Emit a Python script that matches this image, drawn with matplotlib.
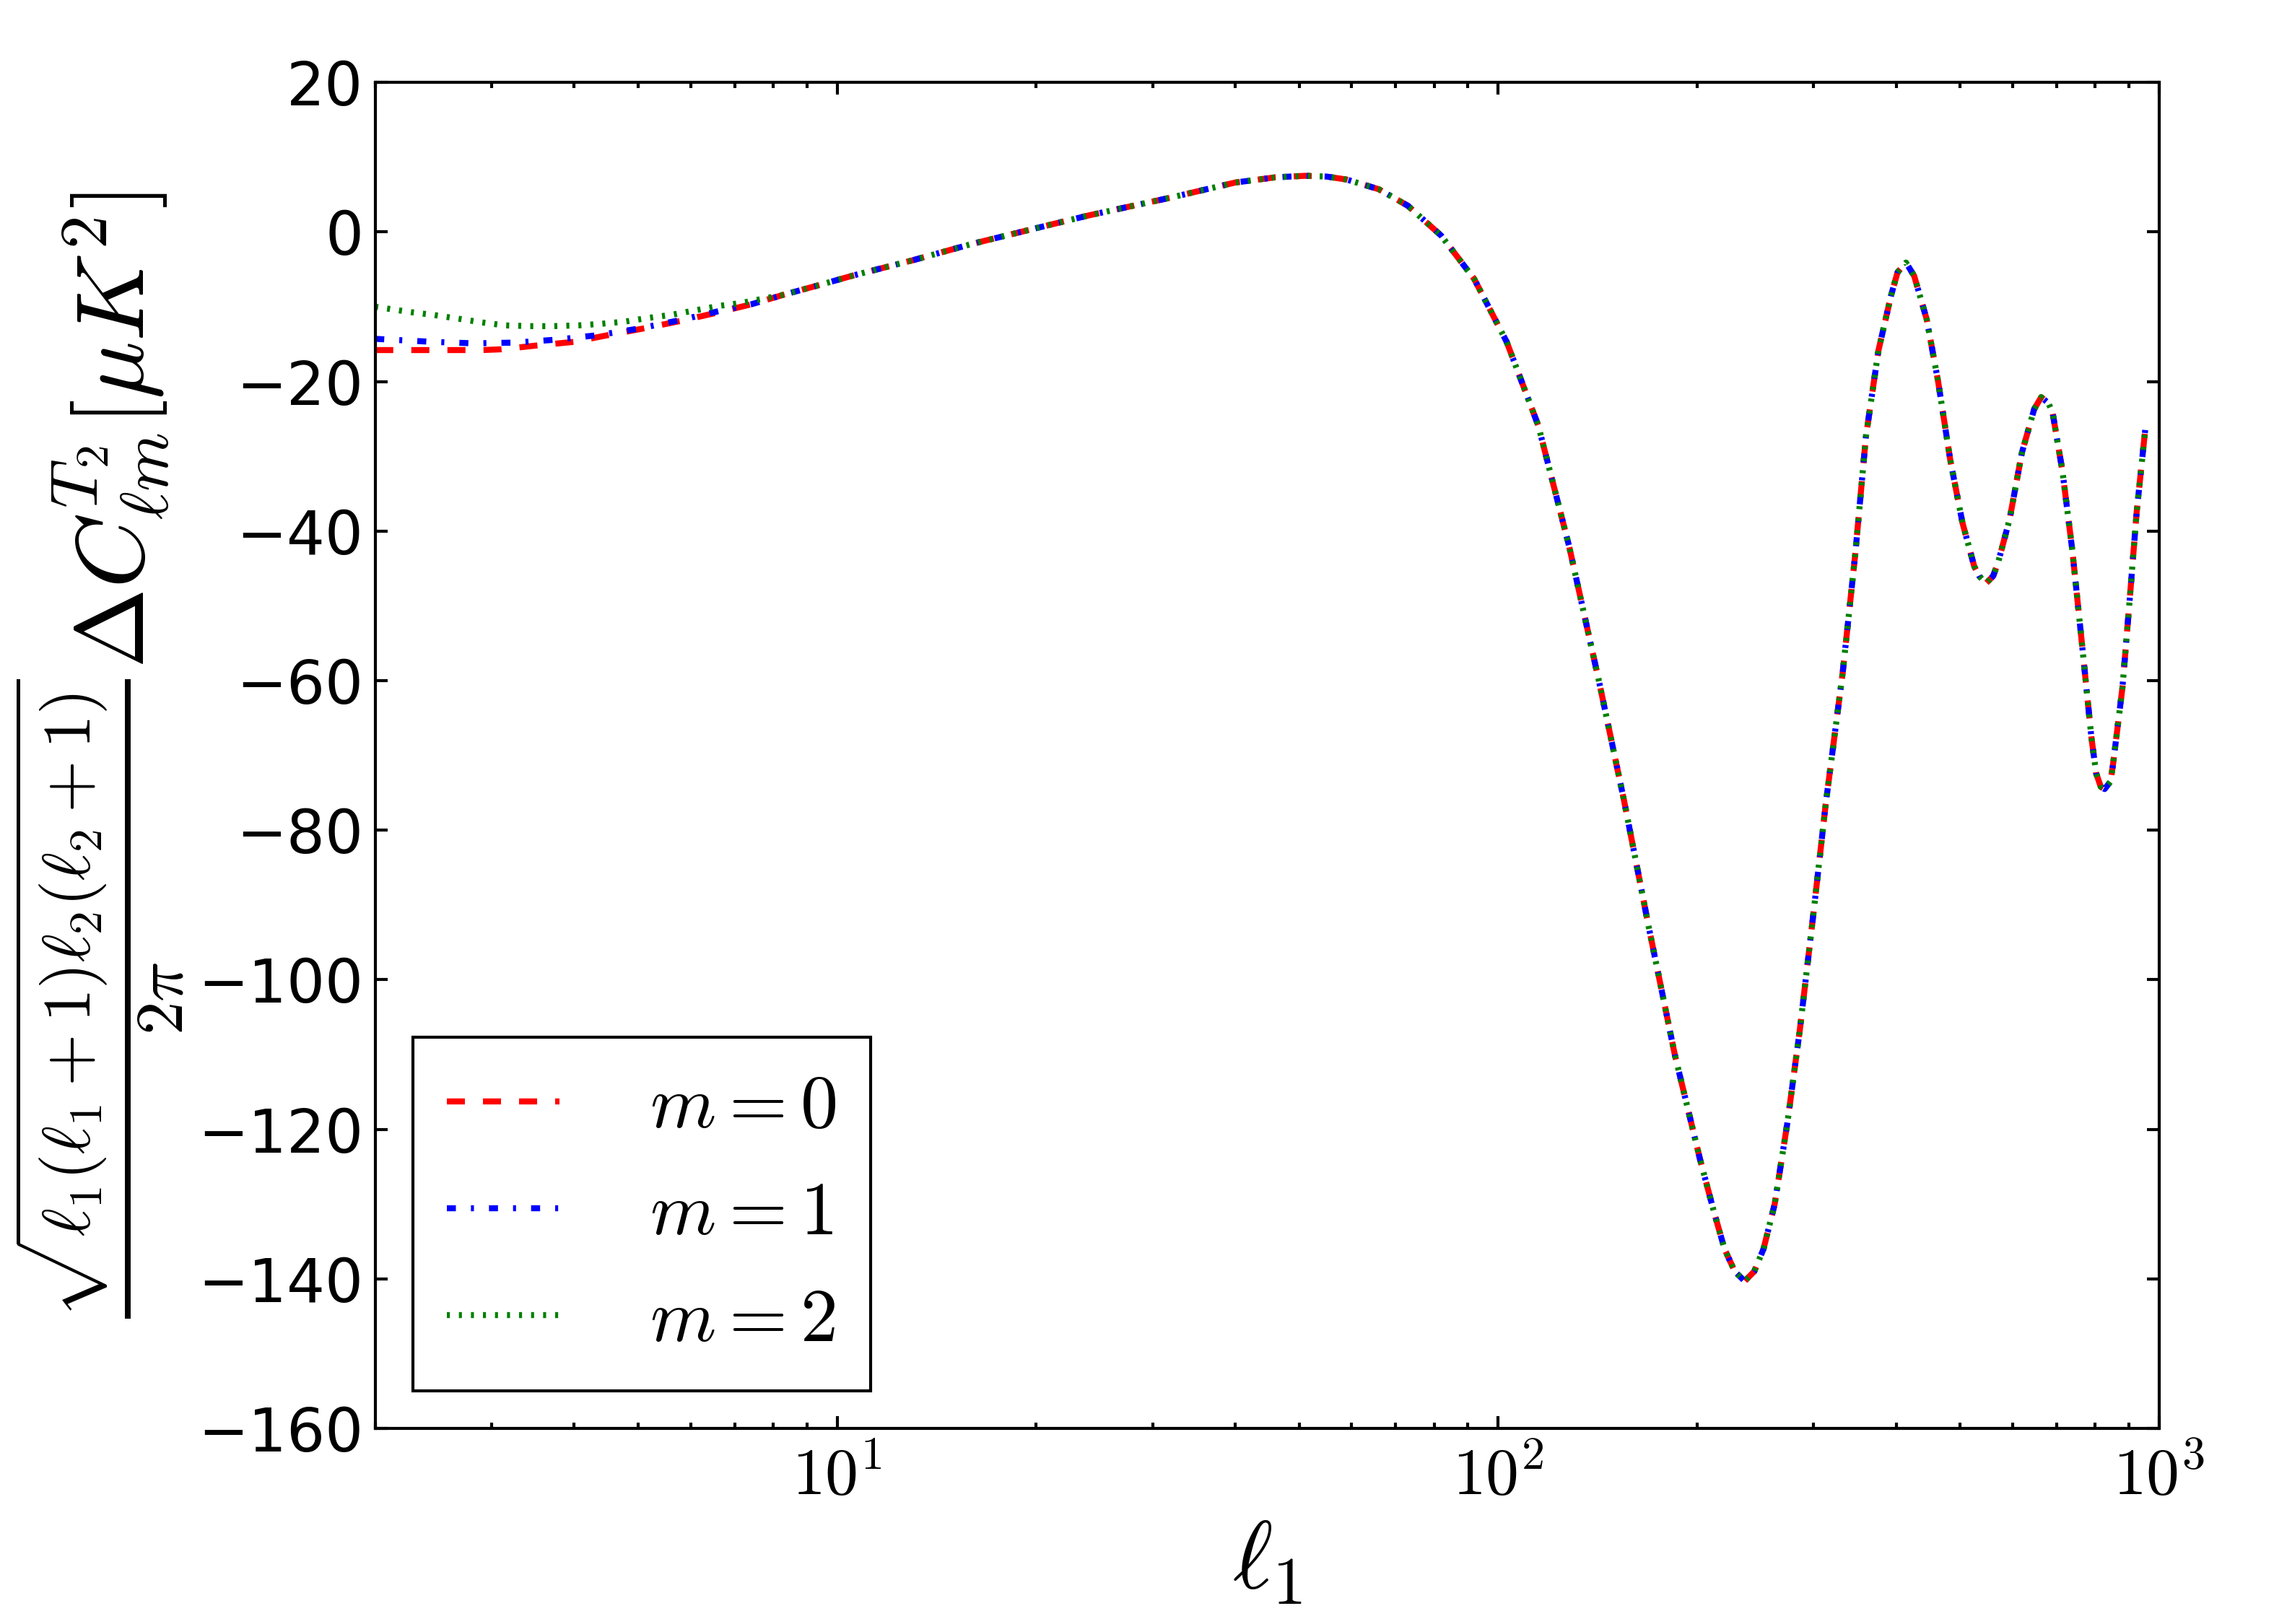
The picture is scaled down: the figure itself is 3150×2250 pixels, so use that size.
import matplotlib
matplotlib.use("Agg")
import matplotlib.pyplot as plt
from matplotlib.ticker import FuncFormatter
import numpy as np

# ---------------------------------------------------------------------------
# Data
# ---------------------------------------------------------------------------

# low-ell part, different for each m
L_LOW_M0 = [2.0, 2.5, 2.9, 3.1, 3.5, 4.0, 4.5, 5.1, 5.8, 6.5, 7.4]
C_LOW_M0 = [-15.8, -15.8, -15.8, -15.7, -15.2, -14.7, -13.8, -12.9, -11.9, -10.9, -9.7]

L_LOW_M1 = [2.0, 2.44, 2.82, 3.26, 3.77, 4.35, 5.03, 5.78, 6.69, 7.4]
C_LOW_M1 = [-14.3, -14.7, -14.9, -14.8, -14.4, -13.8, -12.9, -11.8, -10.5, -9.7]

L_LOW_M2 = [2.0, 2.25, 2.45, 2.67, 2.9, 3.14, 3.43, 3.71, 4.06, 4.38, 4.77,
            5.18, 5.6, 6.09, 6.62, 7.16]
C_LOW_M2 = [-10.0, -10.7, -11.1, -11.6, -12.1, -12.5, -12.6, -12.6, -12.5, -12.3, -12.0,
            -11.5, -11.1, -10.5, -9.9, -9.5]

# high-ell part, the three curves overlap here
L_HIGH = [8.3, 9.4, 10.6, 13, 16, 20, 24, 32, 40, 46, 51, 55, 59, 66, 73, 82, 92,
          103, 115, 128, 142, 155, 169, 185, 202, 212, 220, 228, 236, 244, 252, 262,
          274, 286, 300, 313, 332, 347, 360, 376, 393, 402, 414, 426, 445, 463, 483,
          504, 525, 534, 547, 561, 571, 594, 620, 647, 663, 680, 690, 714, 739, 764,
          790, 803, 816, 827, 844, 851, 880, 902, 925, 953]
C_HIGH = [-8.4, -7.1, -5.8, -3.8, -1.6, 0.5, 2.2, 4.6, 6.6, 7.3, 7.5, 7.4, 7.0, 5.7,
          3.5, -0.5, -6.3, -14.7, -25.9, -42, -60, -76, -93, -110, -124, -131, -136,
          -139, -140.3, -139, -136, -130, -119, -106.7, -91, -76.5, -59, -43, -27.4,
          -15.9, -8.5, -5.4, -4.1, -5.9, -11.7, -20, -30.5, -38.9, -44.7, -46, -47,
          -46, -44.1, -38.4, -29.5, -23.7, -22.1, -22.9, -24.2, -32, -42.6, -55,
          -67.7, -72.4, -74.2, -74.5, -73.5, -71.4, -60.9, -49.4, -37.3, -26.3]

LABELS = [r"$m=0$", r"$m=1$", r"$m=2$"]
COLORS = ["red", "blue", "green"]

# ---------------------------------------------------------------------------
# Style (classic matplotlib look)
# ---------------------------------------------------------------------------

plt.rcParams["mathtext.fontset"] = "cm"
plt.rcParams["font.family"] = "DejaVu Sans"
plt.rcParams["lines.scale_dashes"] = False

fig = plt.figure(figsize=(10.5, 7.5), dpi=300)
ax = fig.add_axes([0.165, 0.1204, 0.7845, 0.8289])

series = [
    (L_LOW_M0 + L_HIGH, C_LOW_M0 + C_HIGH, (0, (6, 6))),
    (L_LOW_M1 + L_HIGH, C_LOW_M1 + C_HIGH, (0, (3, 5, 1, 5))),
    (L_LOW_M2 + L_HIGH, C_LOW_M2 + C_HIGH, (0, (1, 3))),
]
for (ell, cl, ls), color, label in zip(series, COLORS, LABELS):
    ax.plot(ell, cl, color=color, linestyle=ls, linewidth=2, label=label)

ax.set_xscale("log")
ax.set_xlim(2, 1000)
ax.set_ylim(-160, 20)
ax.set_yticks(np.arange(-160, 21, 20))
ax.xaxis.set_major_formatter(
    FuncFormatter(lambda v, _: r"$10^{%d}$" % round(np.log10(v))))

ax.tick_params(which="both", direction="in", top=True, right=True,
               labelsize=20, width=1)
ax.tick_params(which="major", length=4, pad=4)
ax.tick_params(which="minor", length=2)
ax.tick_params(axis="x", which="major", pad=5, labelsize=22)
for spine in ax.spines.values():
    spine.set_linewidth(1.0)

ax.set_xlabel(r"$\ell_1$", fontsize=32, labelpad=2)
ax.set_ylabel(r"$\frac{\sqrt{\ell_1(\ell_1+1)\ell_2(\ell_2+1)}}{2\pi}"
              r"\Delta C^{T_2}_{\ell m}[\mu K^2]$", fontsize=32, labelpad=4)

leg = ax.legend(loc="lower left", fontsize=25, handlelength=1.5,
                handletextpad=1.2, labelspacing=0.45, borderpad=0.45,
                borderaxespad=0.5, fancybox=False, framealpha=1)
leg.get_frame().set_edgecolor("black")
leg.get_frame().set_linewidth(1.0)

fig.savefig("out.png", dpi=300, facecolor="white")
